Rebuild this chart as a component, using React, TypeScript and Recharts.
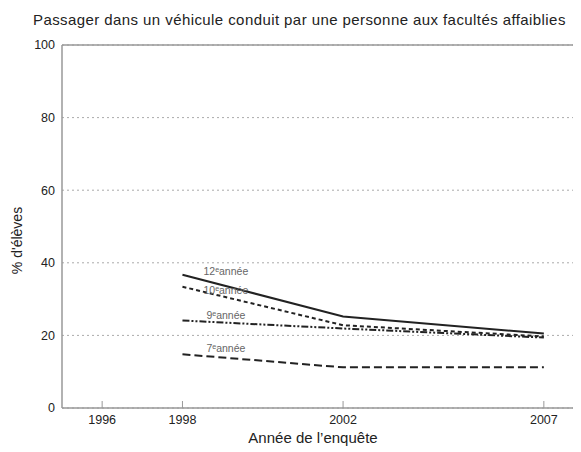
import React from "react";
import { LineChart, Line, XAxis, YAxis, CartesianGrid, ReferenceLine, LabelList, Label } from "recharts";

const years = [1998, 2002, 2007];
const grade12 = [36.7, 25.2, 20.5];
const grade10 = [33.4, 22.8, 19.7];
const grade9 = [24.1, 21.9, 19.4];
const grade7 = [14.8, 11.2, 11.2];
const xTicks = [1996, 1998, 2002, 2007];
const yTicks = [0, 20, 40, 60, 80, 100];
const seriesNames = ["12ᵉannée", "10ᵉannée", "9ᵉannée", "7ᵉannée"];
const title = "Passager dans un véhicule conduit par une personne aux facultés affaiblies";
const xTitle = "Année de l’enquête";
const yTitle = "% d'élèves";

const data = years.map((y, i) => ({ year: y, g12: grade12[i], g10: grade10[i], g9: grade9[i], g7: grade7[i] }));

const FONT = "'Liberation Sans', Arial, sans-serif";
const INK = "#222";
const AXIS = "#999";

const XTick = (props: any) => {
  const { x, y, payload } = props;
  return (
    <g>
      <line x1={x} x2={x} y1={y - 7} y2={y} stroke={AXIS} strokeWidth={1} />
      <text x={x} y={y + 16} textAnchor="middle" fontSize={12.5} fill={INK} fontFamily={FONT}>
        {payload.value}
      </text>
    </g>
  );
};

const makeLabel = (text: string, dx: number, dy: number) => (props: any) => {
  const { x, y, index } = props;
  if (index !== 0) return null;
  return (
    <text x={x + dx} y={y + dy} fontSize={10.5} fill="#666" fontFamily={FONT}>
      {text}
    </text>
  );
};

export default function App() {
  return (
    <div style={{ position: "relative", width: 573, height: 444, overflow: "hidden" }}>
      <div
        style={{
          position: "absolute",
          left: 25,
          top: 3,
          fontFamily: FONT,
          fontSize: 15,
          letterSpacing: 0.42,
          color: INK,
          whiteSpace: "nowrap",
        }}
      >
        {title}
      </div>
      <LineChart width={590} height={444} data={data} margin={{ top: 37, right: 14, bottom: 0, left: 0 }}>
        <CartesianGrid vertical={false} stroke="#aaa" strokeDasharray="2 3" />
        <XAxis
          dataKey="year"
          type="number"
          domain={[1995, 2008]}
          ticks={xTicks}
          allowDataOverflow
          height={44}
          axisLine={{ stroke: AXIS, strokeWidth: 1.5 }}
          tickLine={false}
          tickSize={0}
          tickMargin={0}
          tick={<XTick />}
        >
          <Label
            content={(p: any) => {
              const vb = p.viewBox;
              return (
                <text x={vb.x + vb.width / 2 - 10} y={vb.y + 35} textAnchor="middle" fontSize={15} fill={INK} fontFamily={FONT}>
                  {xTitle}
                </text>
              );
            }}
          />
        </XAxis>
        <YAxis
          domain={[0, 100]}
          ticks={yTicks}
          width={54}
          axisLine={{ stroke: AXIS, strokeWidth: 1.5 }}
          tickLine={false}
          tickSize={0}
          tickMargin={7}
          tick={{ fontSize: 12.5, fill: INK, fontFamily: FONT }}
        >
          <Label
            content={(p: any) => {
              const vb = p.viewBox;
              const cx = vb.x + 9;
              const cy = vb.y + vb.height / 2 + 14;
              return (
                <text x={cx} y={cy} transform={`rotate(-90 ${cx} ${cy})`} textAnchor="middle" dominantBaseline="central" fontSize={14} fill={INK} fontFamily={FONT}>
                  {yTitle}
                </text>
              );
            }}
          />
        </YAxis>
        <ReferenceLine y={100} stroke={AXIS} strokeWidth={1.5} />
        <Line dataKey="g12" stroke={INK} strokeWidth={2} dot={false} isAnimationActive={false}>
          <LabelList dataKey="g12" content={makeLabel(seriesNames[0], 21, 0)} />
        </Line>
        <Line dataKey="g10" stroke={INK} strokeWidth={2} strokeDasharray="4 3" dot={false} isAnimationActive={false}>
          <LabelList dataKey="g10" content={makeLabel(seriesNames[1], 21, 7)} />
        </Line>
        <Line dataKey="g9" stroke={INK} strokeWidth={2} strokeDasharray="7 2 2 2 2 2" dot={false} isAnimationActive={false}>
          <LabelList dataKey="g9" content={makeLabel(seriesNames[2], 24, -2)} />
        </Line>
        <Line dataKey="g7" stroke={INK} strokeWidth={2} strokeDasharray="8 4" dot={false} isAnimationActive={false}>
          <LabelList dataKey="g7" content={makeLabel(seriesNames[3], 24, -2)} />
        </Line>
      </LineChart>
    </div>
  );
}
